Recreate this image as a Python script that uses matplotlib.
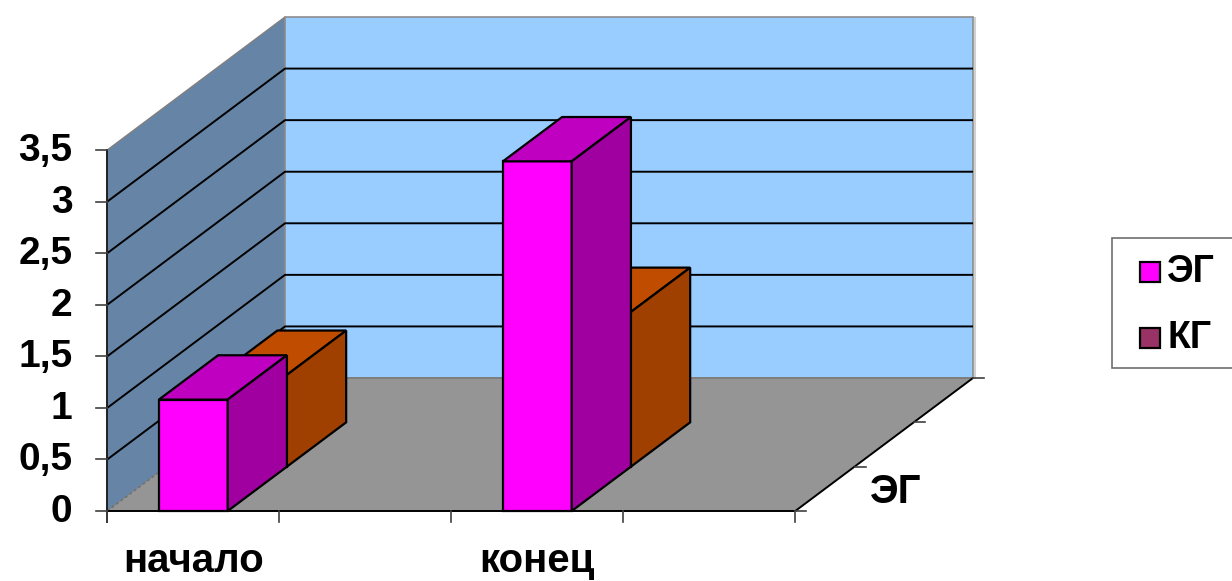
import matplotlib
matplotlib.use("Agg")
import matplotlib.pyplot as plt
from matplotlib.patches import Polygon, Rectangle

plt.rcParams['font.family'] = ['Liberation Sans', 'DejaVu Sans']

# ---- data -------------------------------------------------------------
categories = ["начало", "конец"]
series_names = ["ЭГ", "КГ"]
eg_values = [1.08, 3.39]
kg_values = [0.89, 1.50]
y_ticks = [0, 0.5, 1, 1.5, 2, 2.5, 3, 3.5]
y_tick_labels = ["0", "0,5", "1", "1,5", "2", "2,5", "3", "3,5"]
depth_labels = ["ЭГ"]

# ---- styling ----------------------------------------------------------
bar_colors = {  # front, top, side
    "ЭГ": ("#FF00FF", "#C000C0", "#A000A0"),
    "КГ": ("#FF6600", "#C04C00", "#A04000"),
}
legend_colors = {"ЭГ": "#FF00FF", "КГ": "#993366"}
LEFT_WALL = "#6685A6"
BACK_WALL = "#99CCFF"
FLOOR = "#959595"

# ---- oblique 3-D layout (pixels) ---------------------------------------
X0, Y0 = 107.3, 511.0        # front-bottom-left corner of the plot box
SLOT = 172.0                 # width of one category slot
N_SLOTS = 4
Y_MAX = 3.5
UNIT = 361.0 / Y_MAX         # pixels per value unit
DX, DY = 177.7, -133.0       # front-to-back offset
N_ROWS = 3
BAR_W = 0.40                 # bar width as a fraction of a slot


def proj(x, v, d):
    """x in slot units, v in value units, d in depth fraction (0 front, 1 back)."""
    return (X0 + x * SLOT + d * DX, Y0 - v * UNIT + d * DY)


fig = plt.figure(figsize=(12.32, 5.81), dpi=100)
ax = fig.add_axes([0, 0, 1, 1])
ax.set_xlim(0, 1232)
ax.set_ylim(581, 0)
ax.axis("off")


def poly(pts, fc, ec="black", lw=1.2, z=1, **kw):
    ax.add_patch(Polygon([proj(*p) for p in pts], closed=True, facecolor=fc,
                         edgecolor=ec, linewidth=lw, zorder=z, joinstyle="miter", **kw))


def line(pts, color="black", lw=1.3, z=2, **kw):
    xs, ys = zip(*[proj(*p) for p in pts])
    ax.plot(xs, ys, color=color, lw=lw, zorder=z, solid_capstyle="butt", **kw)


# walls and floor
poly([(0, 0, 0), (0, Y_MAX, 0), (0, Y_MAX, 1), (0, 0, 1)], LEFT_WALL, ec="#7F7F7F", lw=1.0)
bx, by = proj(N_SLOTS, 0, 1)
tx, ty = proj(N_SLOTS, Y_MAX, 1)
ax.plot([bx + 2, tx + 2], [by, ty + 1], color="#D0D0D0", lw=1.5, zorder=0.5)
poly([(0, 0, 1), (N_SLOTS, 0, 1), (N_SLOTS, Y_MAX, 1), (0, Y_MAX, 1)], BACK_WALL, ec="#8C8C8C", lw=1.2)
poly([(0, 0, 0), (N_SLOTS, 0, 0), (N_SLOTS, 0, 1), (0, 0, 1)], FLOOR, ec="none", lw=0)
line([(0, 0, 0), (0, 0, 1)], color="#6E6E6E", lw=1.0, ls=(0, (2, 2)))
line([(0, 0, 1), (N_SLOTS, 0, 1)], color="#7A7A7A", lw=1.2)

# gridlines on both walls
for v in y_ticks[1:-1]:
    line([(0, v, 0), (0, v, 1), (N_SLOTS, v, 1)], lw=1.4)

# axes and tick marks
line([(0, 0, 0), (N_SLOTS, 0, 0)], lw=1.4, z=3)
line([(N_SLOTS, 0, 0), (N_SLOTS, 0, 1)], lw=1.4, z=3)
ax.plot([X0, X0], [proj(0, Y_MAX, 0)[1], Y0 + 11], color="#202020", lw=1.4, zorder=3)
for v, lab in zip(y_ticks, y_tick_labels):
    x, y = proj(0, v, 0)
    ax.plot([x - 11, x], [y, y], color="#404040", lw=1.2, zorder=3)
    ax.text(x - 35, y + 1, lab, ha="right", va="center", fontsize=28,
            fontweight="bold", zorder=4)
for s in range(N_SLOTS + 1):
    x, y = proj(s, 0, 0)
    ax.plot([x, x], [y, y + 11], color="#404040", lw=1.2, zorder=3)
for r in range(N_ROWS + 1):
    x, y = proj(N_SLOTS, 0, r / N_ROWS)
    ax.plot([x, x + 11], [y, y], color="#404040", lw=1.2, zorder=3)

# category labels (every second slot carries a category)
for i, cat in enumerate(categories):
    x, _ = proj(2 * i + 0.5, 0, 0)
    ax.text(x, Y0 + 61, cat, ha="center", va="baseline", fontsize=29,
            fontweight="bold", zorder=4)

# series label on the depth axis
for r, lab in enumerate(depth_labels):
    x, y = proj(N_SLOTS, 0, (r + 0.5) / N_ROWS)
    ax.text(x + 45, y + 14, lab, ha="left", va="baseline", fontsize=29,
            fontweight="bold", zorder=4)

# bars, painted back row first
series_values = {"ЭГ": eg_values, "КГ": kg_values}
for row in reversed(range(len(series_names))):
    name = series_names[row]
    front, top, side = bar_colors[name]
    d0, d1 = row / N_ROWS, (row + 1) / N_ROWS
    z = 10 + (len(series_names) - row)
    for i, v in enumerate(series_values[name]):
        c = 2 * i + 0.5
        xl, xr = c - BAR_W / 2, c + BAR_W / 2
        poly([(xl, 0, d0), (xr, 0, d0), (xr, v, d0), (xl, v, d0)], front, lw=1.6, z=z)
        poly([(xl, v, d0), (xr, v, d0), (xr, v, d1), (xl, v, d1)], top, lw=1.6, z=z)
        poly([(xr, 0, d0), (xr, 0, d1), (xr, v, d1), (xr, v, d0)], side, lw=1.6, z=z)

# legend box (runs past the right edge of the figure)
LEG_X, LEG_Y, LEG_W, LEG_H = 1112, 238, 140, 130
ax.add_patch(Rectangle((LEG_X, LEG_Y), LEG_W, LEG_H, facecolor="white",
                       edgecolor="#6E6E6E", linewidth=1.2, zorder=5, clip_on=False))
for k, name in enumerate(series_names):
    cy = 271.5 + k * 66
    ax.add_patch(Rectangle((1139.5, cy - 10), 20, 20, facecolor=legend_colors[name],
                           edgecolor="black", linewidth=1.6, zorder=6))
    ax.text(1167, cy + 1, name, ha="left", va="center", fontsize=27,
            fontweight="bold", zorder=6)

fig.savefig("out.png", dpi=100, facecolor="white")
